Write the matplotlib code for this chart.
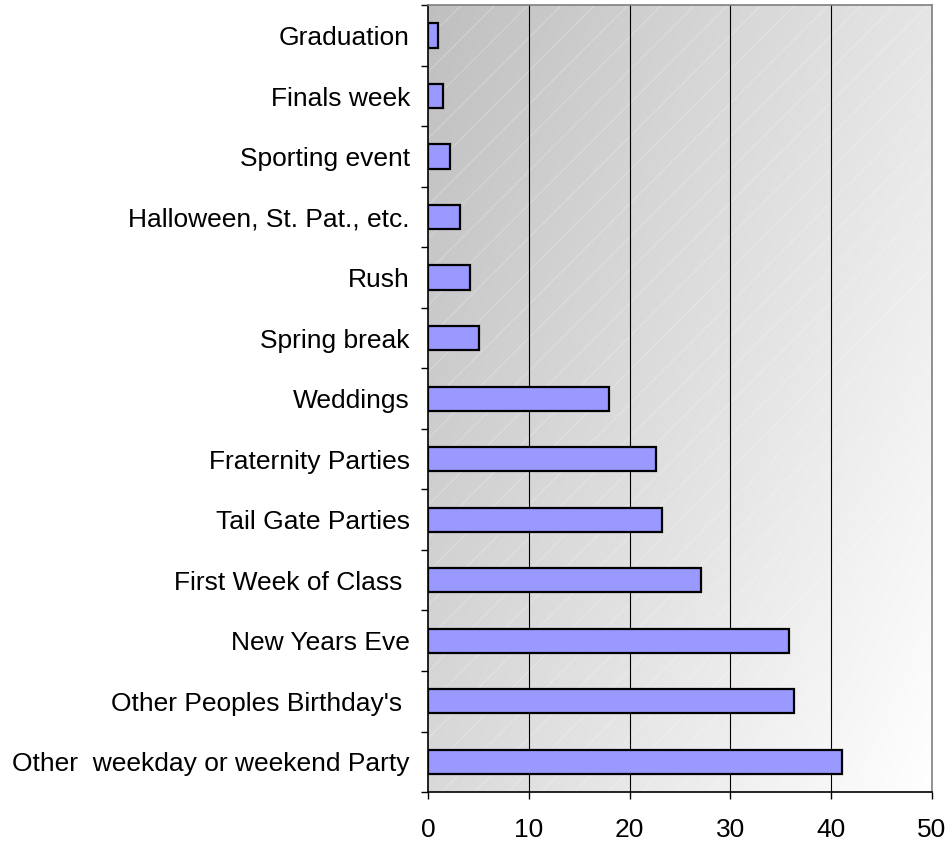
import numpy as np
import matplotlib
matplotlib.use('Agg')
import matplotlib.pyplot as plt
from matplotlib.patches import Rectangle

plt.rcParams['font.family'] = ['Liberation Sans', 'DejaVu Sans']
plt.rcParams['hatch.linewidth'] = 0.8

# occasions, listed bottom to top
occasions = ["Other  weekday or weekend Party", "Other Peoples Birthday's ", "New Years Eve",
             "First Week of Class ", "Tail Gate Parties", "Fraternity Parties", "Weddings",
             "Spring break", "Rush", "Halloween, St. Pat., etc.", "Sporting event",
             "Finals week", "Graduation"]
values = [41.1, 36.3, 35.8, 27.1, 23.2, 22.6, 18.0, 5.1, 4.2, 3.2, 2.2, 1.5, 1.0]
x_ticks = [0, 10, 20, 30, 40, 50]

fig = plt.figure(figsize=(9.51, 8.46), dpi=100)
ax = fig.add_axes([0.45, 0.0638, 0.53, 0.93])

n = len(occasions)
ax.set_xlim(0, 50)
ax.set_ylim(-0.5, n - 0.5)

# gradient background: gray top-left to white bottom-right
gx, gy = np.meshgrid(np.linspace(0, 1, 300), np.linspace(0, 1, 300))
v = 0.6 * gx + 0.4 * (1 - gy)
g = 0.75 + 0.25 * v
img = np.dstack([g, g, g])
ax.imshow(img, extent=(0, 50, -0.5, n - 0.5), aspect='auto', origin='lower', zorder=0)
ax.add_patch(Rectangle((0, -0.5), 50, n, transform=ax.transData, fill=False,
                       hatch='/', edgecolor=(1, 1, 1, 0.25), linewidth=0, zorder=0.5))

for xv in x_ticks[1:-1]:
    ax.axvline(xv, color='black', linewidth=0.8, zorder=1)

ax.barh(range(n), values, height=0.4, color='#9999ff', edgecolor='black',
        linewidth=1.6, zorder=2)

ax.set_yticks(range(n))
ax.set_yticklabels(occasions, fontsize=19)
ax.set_yticks(np.arange(-0.5, n, 1), minor=True)
ax.tick_params(axis='y', which='major', length=0, pad=13)
ax.tick_params(axis='y', which='minor', length=5, width=1, direction='out')
ax.set_xticks(x_ticks)
ax.set_xticklabels([str(t) for t in x_ticks], fontsize=19)
ax.tick_params(axis='x', length=5, width=1, direction='out', pad=14)

ax.spines['left'].set_color('black')
ax.spines['bottom'].set_color('black')
ax.spines['top'].set_color('#808080')
ax.spines['right'].set_color('#808080')
for s in ax.spines.values():
    s.set_linewidth(1.2)

fig.savefig('out.png', dpi=100)
